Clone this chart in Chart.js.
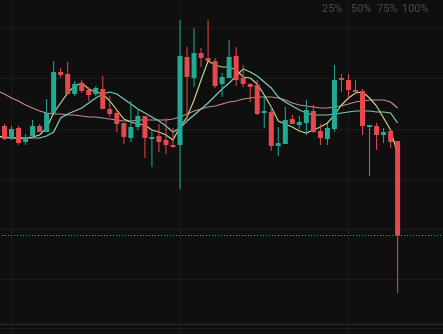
<!DOCTYPE html>
<html>
<head>
<meta charset="utf-8">
<script src="https://cdn.jsdelivr.net/npm/chart.js@4"></script>
<style>
  html, body { margin: 0; padding: 0; background: #0f0f0f; overflow: hidden; }
  #wrap { position: relative; width: 443px; height: 334px; }
  #zoom span { position: absolute; top: 2px; font: 11px Roboto, "Noto Sans", sans-serif; color: #4b4b4b; }
</style>
</head>
<body>
<div id="wrap">
  <canvas id="chart" width="443" height="334"></canvas>
  <div id="zoom"></div>
</div>
<script>
// candles, one per session (index 0..56)
const opens  = [20.3, 19.0, 20.1, 18.7, 19.3, 20.3, 19.7, 21.6, 25.7, 25.5,
                23.5, 24.6, 23.9, 23.5, 24.0, 22.0, 21.6, 20.6, 19.1, 20.2,
                21.3, 19.0, 19.3, 18.9, 18.4, 18.4, 27.2, 25.1, 27.6, 27.1,
                26.8, 24.5, 25.1, 27.3, 25.1, 24.5, 24.4, 21.6, 21.7, 18.3,
                18.5, 21.0, 20.4, 20.6, 21.8, 19.8, 19.0, 20.0, 25.1, 24.9,
                23.9, 23.8, 20.2, 20.3, 19.4, 19.8, 18.8];
const highs  = [20.5, 20.3, 20.3, 19.5, 20.9, 20.5, 23.0, 26.8, 26.1, 26.7,
                24.8, 24.9, 24.2, 24.3, 25.3, 23.3, 21.9, 20.6, 22.8, 22.1,
                21.3, 19.8, 20.5, 21.1, 20.1, 30.9, 28.2, 30.1, 28.1, 30.9,
                27.1, 25.6, 28.9, 28.2, 26.4, 24.6, 24.9, 23.3, 22.3, 20.2,
                22.2, 21.4, 21.3, 22.9, 22.4, 20.5, 20.5, 26.4, 25.5, 25.5,
                24.9, 24.0, 20.4, 20.6, 20.1, 19.9, 18.8];
const lows   = [18.9, 18.9, 18.4, 18.4, 19.3, 19.7, 19.7, 21.6, 25.1, 23.5,
                23.3, 23.6, 22.8, 23.3, 22.0, 21.2, 19.7, 18.5, 18.7, 19.9,
                17.1, 16.2, 17.7, 17.5, 18.1, 14.0, 20.9, 24.2, 26.2, 26.8,
                24.1, 23.2, 25.1, 24.3, 24.2, 22.7, 21.4, 20.1, 17.8, 17.3,
                18.5, 20.5, 20.0, 19.4, 19.6, 18.4, 18.4, 19.7, 23.7, 23.1,
                23.7, 19.4, 15.3, 17.9, 18.6, 18.1, 3.6];
const closes = [19.0, 20.0, 18.6, 19.2, 20.3, 19.7, 21.6, 25.7, 25.4, 23.5,
                24.5, 23.8, 23.4, 24.1, 22.0, 21.5, 20.5, 19.2, 20.2, 21.3,
                19.1, 19.2, 18.7, 18.4, 18.2, 27.3, 25.2, 27.6, 27.1, 26.8,
                24.3, 25.2, 27.2, 24.9, 24.5, 24.2, 21.5, 21.8, 18.3, 18.6,
                20.9, 20.5, 20.7, 21.9, 19.7, 19.1, 20.1, 24.9, 24.9, 23.9,
                23.7, 20.3, 20.4, 19.4, 19.7, 18.7, 9.35];

// moving averages, starting one session before the first candle (index -1)
const ma5  = [19.3, 19.2, 19.1, 19.1, 19.1, 19.2, 19.4, 20.1, 21.6, 22.6, 23.6,
              24.3, 24.6, 24.0, 23.7, 23.5, 22.8, 21.9, 21.0, 20.7, 20.5,
              20.4, 19.9, 19.7, 19.4, 18.9, 20.2, 21.2, 22.9, 24.9, 26.8,
              26.4, 26.2, 26.2, 25.9, 25.2, 25.1, 24.5, 23.4, 22.2, 20.8,
              20.5, 20.2, 19.8, 19.6, 19.9, 20.2, 20.6, 21.4, 22.4, 23.1,
              23.6, 23.7, 23.1, 22.3, 21.1, 19.9, 17.5];
const ma10 = [19.2, 19.2, 19.1, 19.1, 19.1, 19.1, 19.1, 19.3, 19.7, 21.1, 21.5,
              21.8, 22.1, 22.6, 23.1, 23.5, 23.7, 23.5, 23.0, 22.5, 22.0,
              21.6, 21.2, 20.8, 20.3, 19.7, 20.1, 20.8, 21.4, 22.0, 22.6,
              23.3, 24.0, 24.6, 25.3, 26.0, 25.7, 25.3, 24.7, 24.1, 23.2,
              22.7, 22.3, 21.9, 21.6, 21.4, 21.4, 21.4, 21.5, 21.6, 21.7,
              21.8, 21.8, 21.8, 21.7, 21.7, 21.6, 20.6];
const ma30 = [23.8, 23.5, 23.1, 22.8, 22.4, 22.1, 21.8, 21.6, 21.5, 21.5, 21.4,
              21.4, 21.3, 21.2, 21.2, 21.1, 21.0, 20.9, 20.8, 20.8, 20.9,
              20.9, 20.9, 20.9, 20.9, 21.0, 21.2, 21.5, 21.8, 22.0, 22.2,
              22.3, 22.5, 22.7, 22.8, 23.0, 23.1, 23.2, 23.2, 23.2, 23.1,
              22.9, 22.6, 22.4, 22.3, 22.2, 22.1, 22.1, 22.2, 22.3, 22.5,
              22.7, 22.8, 22.9, 22.9, 22.9, 22.7, 22.1];

// grid positions and the zoom labels in the top right corner
const xGridAt = [1, 25, 49];
const yGridAt = [0.1, 0.5, 5, 10, 15, 20, 25, 30.2];
const zoomLabels = ['25%', '50%', '75%', '100%'];
const zoomLeft = [322, 351, 377, 402];

const up = '#22ab94';
const down = '#e5484d';
const step = 7.02;            // px per session
const xMin = -4.5 / step;
const xMax = xMin + 443 / step;
const last = closes[closes.length - 1];

const candleColor = (c) => closes[c.dataIndex] >= opens[c.dataIndex] ? up : down;
const maPoints = (arr) => arr.map((v, k) => ({ x: k - 1, y: v }));

zoomLabels.forEach((t, k) => {
  const s = document.createElement('span');
  s.textContent = t;
  s.style.left = zoomLeft[k] + 'px';
  document.getElementById('zoom').appendChild(s);
});

new Chart(document.getElementById('chart'), {
  type: 'bar',
  data: {
    datasets: [
      {
        label: 'body',
        data: opens.map((o, i) => ({ x: i, y: [o, closes[i]] })),
        backgroundColor: candleColor,
        barThickness: 5,
        grouped: false,
        inflateAmount: 0,
        borderWidth: 0
      },
      {
        label: 'wick',
        data: lows.map((l, i) => ({ x: i, y: [l, highs[i]] })),
        backgroundColor: candleColor,
        barThickness: 1,
        grouped: false,
        inflateAmount: 0,
        borderWidth: 0
      },
      {
        type: 'line',
        label: 'MA5',
        data: maPoints(ma5),
        borderColor: '#bcd68d',
        borderWidth: 1.2,
        pointRadius: 0,
        tension: 0
      },
      {
        type: 'line',
        label: 'MA10',
        data: maPoints(ma10),
        borderColor: '#7fcdb1',
        borderWidth: 1.2,
        pointRadius: 0,
        tension: 0
      },
      {
        type: 'line',
        label: 'MA30',
        data: maPoints(ma30),
        borderColor: '#c48a90',
        borderWidth: 1.2,
        pointRadius: 0,
        tension: 0
      },
      {
        type: 'line',
        label: 'last',
        data: [{ x: xMin + 0.3, y: last }, { x: xMax, y: last }],
        borderColor: down,
        borderWidth: 1,
        borderDash: [1, 2],
        pointRadius: 0
      }
    ]
  },
  options: {
    responsive: false,
    animation: false,
    layout: { padding: 0, autoPadding: false },
    plugins: { legend: { display: false }, tooltip: { enabled: false } },
    scales: {
      x: {
        type: 'linear',
        min: xMin,
        max: xMax,
        offset: false,
        ticks: { display: false },
        border: { display: false },
        grid: { color: '#1c1c1c', drawTicks: false, offset: false },
        afterBuildTicks: (s) => { s.ticks = xGridAt.map(v => ({ value: v })); }
      },
      y: {
        min: -0.5,
        max: 32.9,
        ticks: { display: false },
        border: { display: false },
        grid: {
          color: (c) => c.tick.value === 0.5 ? '#2d2d2d' : '#1c1c1c',
          drawTicks: false
        },
        afterBuildTicks: (s) => { s.ticks = yGridAt.map(v => ({ value: v })); }
      }
    }
  }
});
</script>
</body>
</html>
